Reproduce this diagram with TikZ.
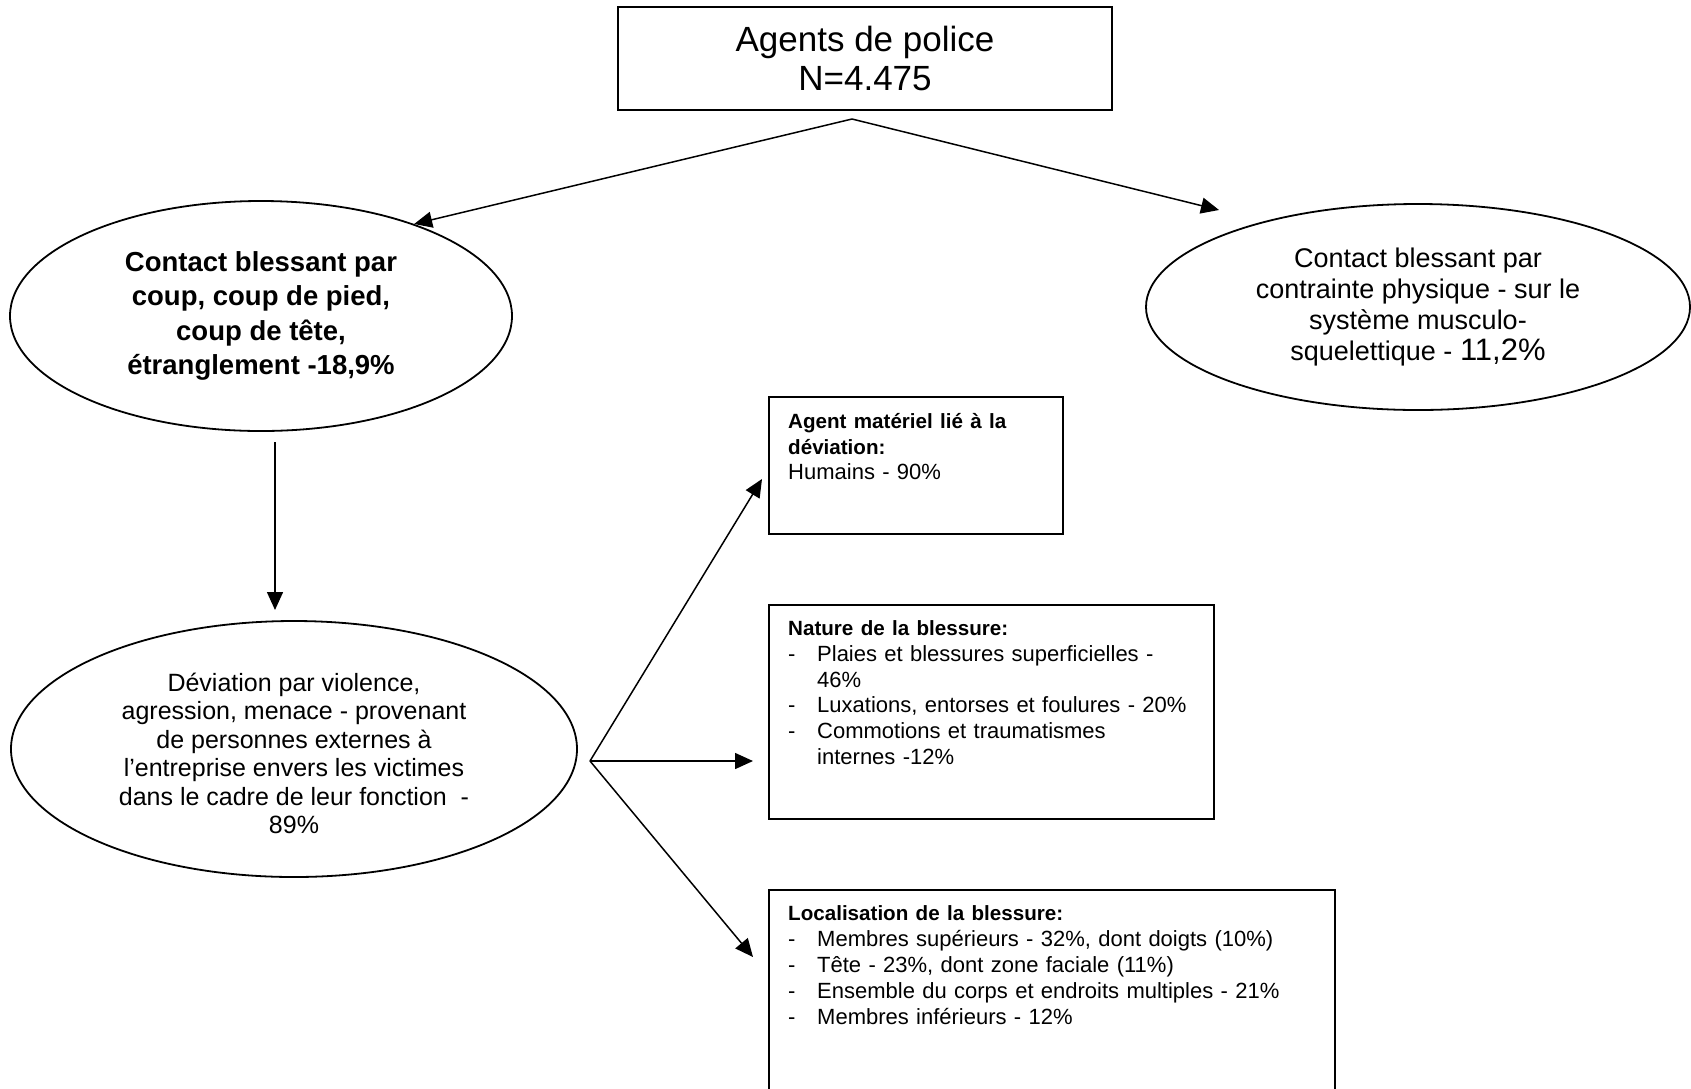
\documentclass[tikz,border=0pt]{standalone}
\usepackage{fontspec}
\setmainfont{Liberation Sans}
\usetikzlibrary{shapes.geometric,arrows.meta}

% bold heading line inside a panel
\newcommand{\panelhead}[1]{{\bfseries\fontsize{20.6}{25}\selectfont #1}}
% dash bullet with hanging indent
\newcommand{\dashitem}{\makebox[29pt][l]{-}}
\newcommand{\dashgap}{\hspace*{29pt}}

\begin{document}
\begin{tikzpicture}[x=1pt,y=-1pt,
  shapeline/.style={line width=1.8pt},
  bubble/.style={draw, shapeline, ellipse, inner sep=0pt, align=center},
  panel/.style={draw, shapeline, rectangle, inner sep=0pt, anchor=north west},
  paneltext/.style={anchor=north west, inner sep=0pt, text width=#1, align=left},
  conn/.style={line width=1.5pt, -{Triangle[length=18pt,width=16pt]}},
  plainline/.style={line width=1.5pt}]

\useasboundingbox (0,0) rectangle (1691,1088);
\fill[white] (0,0) rectangle (1691,1088);
\clip (0,0) rectangle (1691,1088);

% top box
\node[draw, shapeline, minimum width=494pt, minimum height=103pt, inner sep=0pt,
      align=center, font=\fontsize{35}{39}\selectfont] (top) at (865,58.5)
      {Agents de police\\N=4.475};

% first level
\node[bubble, minimum width=502pt, minimum height=230pt,
      font=\bfseries\fontsize{27.5}{34.5}\selectfont] (c1) at (261,316)
      {Contact blessant par\\coup, coup de pied,\\coup de tête,\\étranglement -18,9\%};

\node[bubble, minimum width=544pt, minimum height=206pt,
      font=\fontsize{27}{31.3}\selectfont] (c2) at (1418,307)
      {Contact blessant par\\contrainte physique - sur le\\système musculo-\\squelettique - {\fontsize{31}{31.3}\selectfont 11,2\%}};

% deviation
\node[bubble, minimum width=566pt, minimum height=256pt] (c3) at (294,749) {};
\node[align=center, inner sep=0pt, font=\fontsize{25}{28.5}\selectfont] (c3txt) at (294,753.5)
      {Déviation par violence,\\agression, menace - provenant\\de personnes externes à\\l’entreprise envers les victimes\\dans le cadre de leur fonction~~-\\89\%};

% detail panels
\node[panel, minimum width=294pt, minimum height=137pt] (b1) at (768,396) {};
\node[paneltext=260pt, font=\fontsize{22}{25.3}\selectfont] (t1) at (788,410.8)
  {\strut\panelhead{Agent matériel lié à la}\\\panelhead{déviation:}\\Humains - 90\%};

\node[panel, minimum width=445pt, minimum height=214pt] (b2) at (768,604) {};
\node[paneltext=420pt, font=\fontsize{22}{25.8}\selectfont] (t2) at (788,617.2)
  {\strut\panelhead{Nature de la blessure:}\\
   \dashitem Plaies et blessures superficielles -\\
   \dashgap 46\%\\
   \dashitem Luxations, entorses et foulures - 20\%\\
   \dashitem Commotions et traumatismes\\
   \dashgap internes -12\%};

\node[panel, minimum width=566pt, minimum height=230pt] (b3) at (768,889) {};
\node[paneltext=540pt, font=\fontsize{22}{26.2}\selectfont] (t3) at (788,901.6)
  {\strut\panelhead{Localisation de la blessure:}\\
   \dashitem Membres supérieurs - 32\%, dont doigts (10\%)\\
   \dashitem Tête - 23\%, dont zone faciale (11\%)\\
   \dashitem Ensemble du corps et endroits multiples - 21\%\\
   \dashitem Membres inférieurs - 12\%};

% connector end points
\coordinate (split) at (852,119);
\coordinate (tipR) at (1219,210);
\coordinate (dtop) at (275,442);
\coordinate (dbot) at (275,610);
\coordinate (fan) at (590,761);
\coordinate (f1) at (762,479);
\coordinate (f2) at (753,761);
\coordinate (f3) at (753,957);

% connectors
\draw[conn] (split) -- (c1.31.4);
\draw[conn] (split) -- (tipR);
\draw[conn] (dtop) -- (dbot);
\draw[conn] (fan) -- (f1);
\draw[conn] (fan) -- (f2);
\draw[conn] (fan) -- (f3);

\end{tikzpicture}
\end{document}
